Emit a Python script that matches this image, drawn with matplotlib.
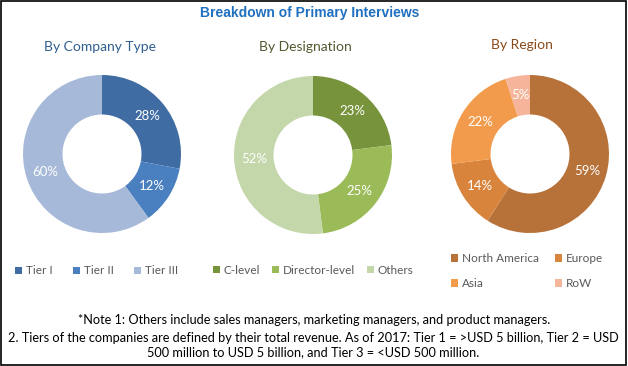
import matplotlib.pyplot as plt
from matplotlib.patches import Patch, Rectangle

# Data
company_labels = ['Tier I', 'Tier II', 'Tier III']
company_values = [28, 12, 60]
design_labels = ['C-level', 'Director-level', 'Others']
design_values = [23, 25, 52]
region_labels = ['North America', 'Europe', 'Asia', 'RoW']
region_values = [59, 14, 22, 5]

company_colors = ['#3f6ca3', '#4a7fc0', '#a6b9d8']
design_colors = ['#77933c', '#9bbb59', '#c4d7aa']
region_colors = ['#b7723a', '#d8843d', '#f39b4c', '#f6b59a']

W, H = 628, 366
plt.rcParams['font.family'] = ['Lato', 'DejaVu Sans']

fig = plt.figure(figsize=(W / 100, H / 100), dpi=100)
fig.patches.append(Rectangle((0.002, 0.003), 0.995, 0.994, transform=fig.transFigure,
                             fill=False, edgecolor='black', linewidth=1.2))


def donut(cx, cy, r, values, colors):
    ax = fig.add_axes([(cx - r) / W, (H - cy - r) / H, 2 * r / W, 2 * r / H])
    wedges, texts = ax.pie(values, colors=colors, startangle=90, counterclock=False,
                           radius=1, wedgeprops=dict(width=0.5, edgecolor='none'),
                           labels=[f'{v}%' for v in values], labeldistance=0.75,
                           textprops=dict(color='white', fontsize=9.5, ha='center', va='center'))
    ax.set_xlim(-1, 1)
    ax.set_ylim(-1, 1)
    ax.set_aspect('equal')
    ax.axis('off')
    return wedges


donut(102, 154, 79, company_values, company_colors)
donut(313, 155, 79, design_values, design_colors)
donut(530, 154, 79, region_values, region_colors)

fig.text(310 / W, 1 - 13 / H, 'Breakdown of Primary Interviews', ha='center', va='center',
         fontsize=10, fontweight='bold', color='#1f70c0', family=['Liberation Sans', 'DejaVu Sans'])
fig.text(100 / W, 1 - 47 / H, 'By Company Type', ha='center', va='center', fontsize=10, color='#2f5f8f')
fig.text(305 / W, 1 - 47 / H, 'By Designation', ha='center', va='center', fontsize=10, color='#4f5a30')
fig.text(522 / W, 1 - 45 / H, 'By Region', ha='center', va='center', fontsize=10, color='#8a4a1a')


def legend(labels, colors, x, y, ncol, rowsp=0.5, colsp=1.2, order=None):
    handles = [Patch(facecolor=c, edgecolor='none') for c in colors]
    if order is not None:
        handles = [handles[i] for i in order]
        labels = [labels[i] for i in order]
    fig.legend(handles, labels, loc='center left', bbox_to_anchor=(x / W, 1 - y / H), ncol=ncol,
               frameon=False, fontsize=8.5, handlelength=0.6, handleheight=0.6, handletextpad=0.3,
               columnspacing=colsp, labelspacing=rowsp, labelcolor='#595959', borderaxespad=0, borderpad=0)


legend(company_labels, company_colors, 15, 271, 3, colsp=1.75)
legend(design_labels, design_colors, 213, 270, 3, colsp=1.0)
# matplotlib fills legend columns first; reorder so rows read NA, Europe / Asia, RoW
legend(region_labels, region_colors, 451, 271, 2, rowsp=1.2, colsp=1.4, order=[0, 2, 1, 3])

fig.text(314 / W, 1 - 320 / H,
         '*Note 1: Others include sales managers, marketing managers, and product managers.',
         ha='center', va='center', fontsize=9.2, color='black')
fig.text(313 / W, 1 - 345 / H,
         '2. Tiers of the companies are defined by their total revenue. As of 2017: Tier 1 = >USD 5 billion, Tier 2 = USD\n'
         '500 million to USD 5 billion, and Tier 3 = <USD 500 million.',
         ha='center', va='center', fontsize=9.2, color='black', linespacing=1.15)

fig.savefig('out.png', dpi=100)
